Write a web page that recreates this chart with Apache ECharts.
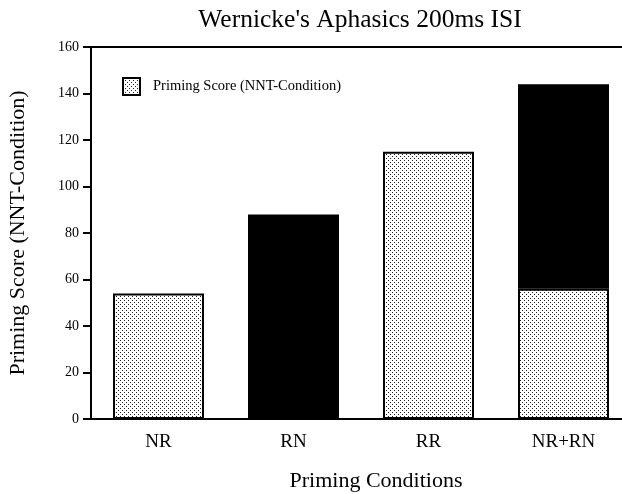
<!DOCTYPE html>
<html>
<head>
<meta charset="utf-8">
<script src="https://cdn.jsdelivr.net/npm/echarts@6/dist/echarts.min.js"></script>
<style>
html,body{margin:0;padding:0;background:#fff;}
#chart{width:622px;height:494px;}
</style>
</head>
<body>
<div id="chart"></div>
<script>
// priming conditions and scores
var categories = ['NR', 'RN', 'RR', 'NR+RN'];
var dottedScores = [54, '-', 115, 56];   // Priming Score (NNT-Condition), dotted fill
var blackScores = ['-', 88, '-', 88];    // solid black part
var yTicks = [0, 20, 40, 60, 80, 100, 120, 140, 160];

// small dot tile used as fill for the dotted bars
function makeDots(){
	var c = document.createElement('canvas');
	c.width = 4; c.height = 4;
	var ctx = c.getContext('2d');
	ctx.fillStyle = '#fff';
	ctx.fillRect(0,0,4,4);
	ctx.fillStyle = '#222';
	ctx.fillRect(0,0,1,1);
	ctx.fillRect(2,2,1,1);
	return c;
}
var dots = {image: makeDots(), repeat: 'repeat'};

var font = '"Liberation Serif", "DejaVu Serif", serif';
var myChart = echarts.init(document.getElementById('chart'));
var option = {
	backgroundColor: '#fff',
	animation: false,
	textStyle: {fontFamily: font, color: '#000'},
	title: {
		text: "Wernicke's Aphasics 200ms ISI",
		left: 355, top: 2, textAlign: 'center',
		textStyle: {fontFamily: font, fontSize: 25.5, fontWeight: 'normal', color: '#000'}
	},
	legend: {
		data: [{name: 'Priming Score (NNT-Condition)', icon: 'rect'}],
		left: 117, top: 72,
		itemWidth: 17, itemHeight: 17, itemGap: 10,
		textStyle: {fontFamily: font, fontSize: 14.5, color: '#000', padding: [0,0,0,8]}
	},
	grid: {
		left: 91, width: 540, top: 47, bottom: 75,
		outerBoundsMode: 'none',
		show: true, borderColor: '#000', borderWidth: 2
	},
	xAxis: {
		type: 'category',
		data: categories,
		name: 'Priming Conditions',
		nameLocation: 'middle', nameGap: 51,
		nameTextStyle: {fontFamily: font, fontSize: 22, color: '#000', verticalAlign: 'top', padding: [0,0,0,30]},
		axisLine: {lineStyle: {color: '#000', width: 2}},
		axisTick: {alignWithLabel: true, length: 6, lineStyle: {color: '#000', width: 1.5}},
		axisLabel: {fontFamily: font, fontSize: 19, color: '#000', margin: 14}
	},
	yAxis: {
		type: 'value',
		min: 0, max: 160, interval: 20,
		name: 'Priming Score (NNT-Condition)',
		nameLocation: 'middle', nameGap: 62,
		nameTextStyle: {fontFamily: font, fontSize: 22, color: '#000'},
		axisLine: {show: true, lineStyle: {color: '#000', width: 2}},
		axisTick: {show: true, length: 8, lineStyle: {color: '#000', width: 2}},
		axisLabel: {fontFamily: font, fontSize: 14, color: '#000', margin: 12,
			formatter: function(v){ return yTicks.indexOf(v) >= 0 ? String(v) : ''; }},
		splitLine: {show: false}
	},
	series: [
		{
			name: 'Priming Score (NNT-Condition)',
			type: 'bar', stack: 'score',
			data: dottedScores,
			barWidth: 91,
			itemStyle: {color: dots, borderColor: '#000', borderWidth: 2}
		},
		{
			name: 'black',
			type: 'bar', stack: 'score',
			data: blackScores,
			barWidth: 91,
			itemStyle: {color: '#000', borderColor: '#000', borderWidth: 2}
		}
	]
};
myChart.setOption(option);
</script>
</body>
</html>
